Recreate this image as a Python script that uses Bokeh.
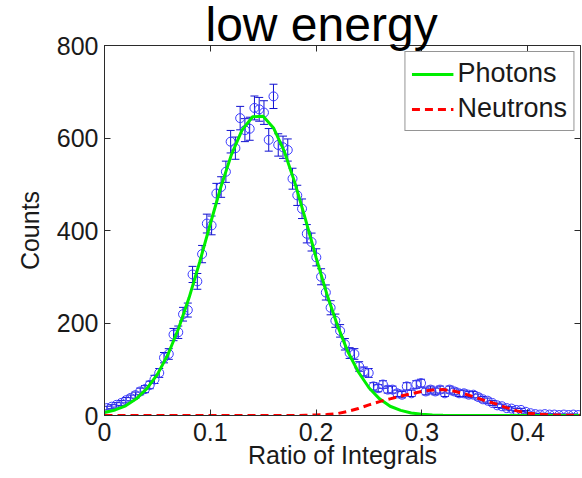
import numpy as np
from bokeh.plotting import figure
from bokeh.models import (ColumnDataSource, Whisker, TeeHead, Legend, LegendItem,
                          LinearAxis, FixedTicker, Range1d)
from bokeh.embed import file_html
from bokeh.resources import INLINE

# ---------------- data ----------------
title_text = "low energy"
x_label = "Ratio of Integrals"
y_label = "Counts"
x_ticks = [0, 0.1, 0.2, 0.3, 0.4]
x_tick_labels = ["0", "0.1", "0.2", "0.3", "0.4"]
y_ticks = [0, 200, 400, 600, 800]
y_tick_labels = ["0", "200", "400", "600", "800"]

bin_width = 0.0045
counts = [16, 19, 23, 27, 33, 38, 44, 52, 57, 66,
          78, 92, 125, 133, 175, 180, 219, 228, 305, 290,
          349, 415, 411, 480, 494, 527, 592, 578, 643, 617,
          620, 665, 662, 655, 596, 690, 585, 580, 574, 512,
          476, 447, 393, 375, 342, 300, 266, 233, 205, 183,
          154, 135, 133, 106, 95, 92, 63, 59, 67, 56,
          56, 48, 45, 63, 48, 67, 70, 52, 56, 52,
          56, 48, 56, 52, 48, 48, 45, 45, 40, 35,
          32, 27, 22, 20, 16, 15, 12, 12, 8, 5,
          3, 2, 3, 2, 2, 1, 2, 1, 2, 1]
bin_centers = [(i + 0.5) * bin_width for i in range(len(counts))]

fit_x = [round(0.01 * i, 2) for i in range(46)]
photons_fit = [6.5, 12, 21, 36, 58, 89, 132, 188, 255, 332,
               414, 494, 564, 617, 646, 647, 621, 571, 503, 424,
               342, 264, 196, 138, 94, 60, 36, 20, 11, 5.5,
               2.5, 1, 0.4, 0.1, 0, 0, 0, 0, 0, 0,
               0, 0, 0, 0, 0, 0]
neutrons_fit = [0, 0, 0, 0, 0, 0, 0, 0, 0, 0,
                0, 0, 0, 0, 0, 0, 0, 0, 0, 0.5,
                1, 2, 4, 9, 15, 23, 30, 36, 42, 47,
                52, 55, 56, 53, 47, 40, 32, 25, 17, 10,
                5, 3, 1.5, 1, 0.5, 0.3]

# ---------------- figure ----------------
FONT = "Liberation Sans"
AX = "#2b2b2b"

err = np.sqrt(np.array(counts, dtype=float))
src = ColumnDataSource(dict(x=bin_centers, y=counts,
                            upper=np.array(counts) + err,
                            lower=np.array(counts) - err))

p = figure(width=582, height=478, x_range=Range1d(0, 0.45), y_range=Range1d(0, 800),
           output_backend="svg", toolbar_location=None,
           min_border_left=104, min_border_right=2, min_border_top=0, min_border_bottom=63)
p.xgrid.visible = False
p.ygrid.visible = False
p.outline_line_color = AX
p.outline_line_width = 1
p.background_fill_color = "white"
p.border_fill_color = "white"

p.title.text = title_text
p.title.align = "left"
p.title.offset = 101
p.title.text_font = FONT
p.title.text_font_size = "48px"
p.title.text_font_style = "normal"
p.title.text_color = "black"
p.title.standoff = -10

for ax, ticks, labels in ((p.xaxis[0], x_ticks, x_tick_labels), (p.yaxis[0], y_ticks, y_tick_labels)):
    ax.ticker = FixedTicker(ticks=ticks)
    ax.major_label_overrides = {t: l for t, l in zip(ticks, labels)}
    ax.minor_tick_line_color = None
    ax.major_tick_in = 6
    ax.major_tick_out = 0
    ax.axis_line_color = AX
    ax.major_tick_line_color = AX
    ax.major_label_text_font = FONT
    ax.major_label_text_font_size = "25px"
    ax.major_label_text_color = "#1a1a1a"
    ax.axis_label_text_font = FONT
    ax.axis_label_text_font_size = "25px"
    ax.axis_label_text_font_style = "normal"
    ax.axis_label_text_color = "#1a1a1a"

p.xaxis.major_label_standoff = 7
p.xaxis.axis_label = x_label
p.xaxis.axis_label_standoff = -3
p.yaxis.major_label_standoff = 6
p.yaxis.axis_label = y_label
p.yaxis.axis_label_standoff = 10

for place, ticks in (("above", x_ticks), ("right", y_ticks)):
    a = LinearAxis(ticker=FixedTicker(ticks=ticks))
    a.major_label_text_font_size = "0px"
    a.major_label_standoff = 0
    a.minor_tick_line_color = None
    a.major_tick_in = 6
    a.major_tick_out = 0
    a.axis_line_color = AX
    a.major_tick_line_color = AX
    p.add_layout(a, place)

# error bars and points
wh = Whisker(source=src, base="x", upper="upper", lower="lower",
             line_color="#1010d0", line_width=1,
             upper_head=TeeHead(size=8, line_color="#1010d0", line_width=1),
             lower_head=TeeHead(size=8, line_color="#1010d0", line_width=1))
p.add_layout(wh)
p.scatter("x", "y", source=src, marker="circle", size=9, fill_color=None,
          line_color="#3a3aff", line_width=1)

g = p.line(fit_x, photons_fit, line_color="#00ee00", line_width=3)
r = p.line(fit_x, neutrons_fit, line_color="#ff0000", line_width=3, line_dash="8 5")

legend = Legend(items=[LegendItem(label="Photons", renderers=[g]),
                       LegendItem(label="Neutrons", renderers=[r])],
                location="top_right")
legend.label_text_font = FONT
legend.label_text_font_size = "27px"
legend.label_text_color = "#1a1a1a"
legend.border_line_color = AX
legend.border_line_width = 1
legend.background_fill_alpha = 1
legend.glyph_width = 42
legend.glyph_height = 26
legend.label_standoff = 4
legend.padding = 6
legend.spacing = 4
legend.margin = 6
p.add_layout(legend)

open("out.html", "w").write(file_html(p, INLINE))
